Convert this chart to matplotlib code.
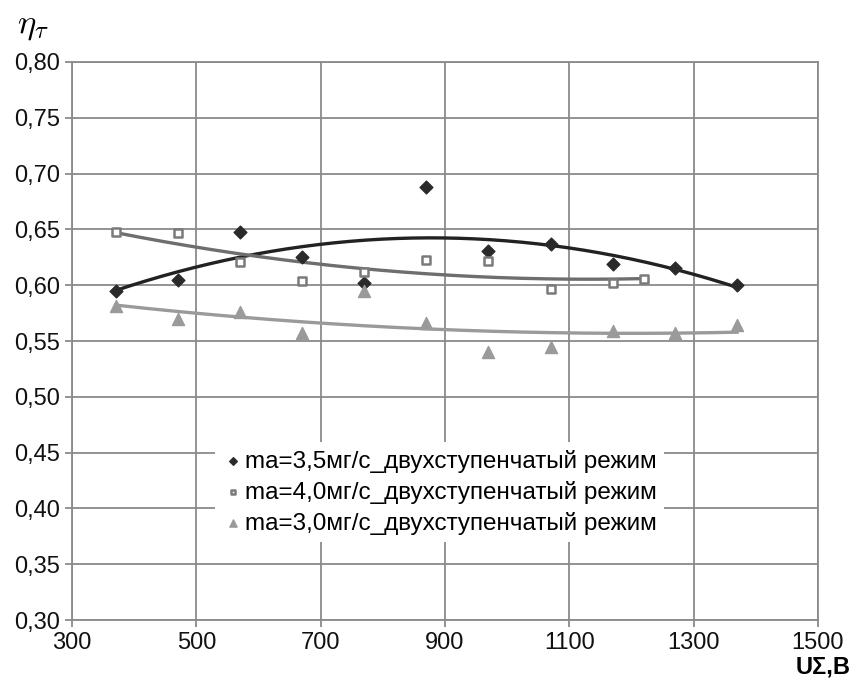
import numpy as np
import matplotlib.pyplot as plt

plt.rcParams['font.family'] = ['Liberation Sans', 'DejaVu Sans']
plt.rcParams['mathtext.fontset'] = 'cm'

# ma = 3,5 mg/s
u1 = [370, 470, 570, 670, 770, 870, 970, 1070, 1170, 1270, 1370]
eta1 = [0.595, 0.605, 0.648, 0.625, 0.602, 0.688, 0.631, 0.637, 0.619, 0.615, 0.600]
# ma = 4,0 mg/s
u2 = [370, 470, 570, 670, 770, 870, 970, 1070, 1170, 1220]
eta2 = [0.648, 0.647, 0.621, 0.604, 0.612, 0.623, 0.622, 0.597, 0.602, 0.606]
# ma = 3,0 mg/s
u3 = [370, 470, 570, 670, 770, 870, 970, 1070, 1170, 1270, 1370]
eta3 = [0.581, 0.570, 0.576, 0.557, 0.595, 0.566, 0.540, 0.545, 0.559, 0.557, 0.564]

labels = ['ma=3,5мг/с_двухступенчатый режим',
          'ma=4,0мг/с_двухступенчатый режим',
          'ma=3,0мг/с_двухступенчатый режим']

fig = plt.figure(figsize=(8.54, 6.82), dpi=100)
ax = fig.add_axes([0.0843, 0.0909, 0.8735, 0.8182])

grid_c = '#8a8a8a'
ax.set_xlim(300, 1500)
ax.set_ylim(0.30, 0.80)
ax.set_xticks(np.arange(300, 1501, 200))
ax.set_yticks(np.arange(0.30, 0.801, 0.05))
ax.set_yticklabels([f'{v:.2f}'.replace('.', ',') for v in np.arange(0.30, 0.801, 0.05)])
ax.grid(True, color=grid_c, lw=1.3)
ax.set_axisbelow(True)
for s in ax.spines.values():
    s.set_color(grid_c)
    s.set_linewidth(1.3)
ax.tick_params(colors=grid_c, labelcolor='#111111', labelsize=17, length=5, width=1.3)


def trend(x, y, deg, color):
    c = np.polyfit(x, y, deg)
    xs = np.linspace(min(x), max(x), 200)
    ax.plot(xs, np.polyval(c, xs), color=color, lw=2.4, zorder=2)


trend(u1, eta1, 2, '#222222')
trend(u2, eta2, 2, '#6e6e6e')
trend(u3, eta3, 2, '#9a9a9a')

ax.scatter(u1, eta1, marker='D', s=42, color='#2a2a2a', zorder=3, label=labels[0])
ax.scatter(u2, eta2, marker='s', s=32, facecolor='white', edgecolor='#7a7a7a',
           linewidth=1.8, zorder=3, label=labels[1])
ax.scatter(u3, eta3, marker='^', s=75, color='#9a9a9a', zorder=3, label=labels[2])

leg = ax.legend(loc='upper left', bbox_to_anchor=(0.175, 0.34), fontsize=17.5,
                frameon=True, framealpha=1, edgecolor='none', fancybox=False,
                handletextpad=0.05, labelspacing=0.33, borderpad=0.3,
                markerscale=0.6, handlelength=0.9)

fig.text(0.02, 0.962, r'$\eta_\tau$', fontsize=25, ha='left', va='center')
fig.text(0.996, 0.022, 'UΣ,В', fontsize=17, fontweight='bold', ha='right', va='center')

fig.savefig('out.png', dpi=100)
